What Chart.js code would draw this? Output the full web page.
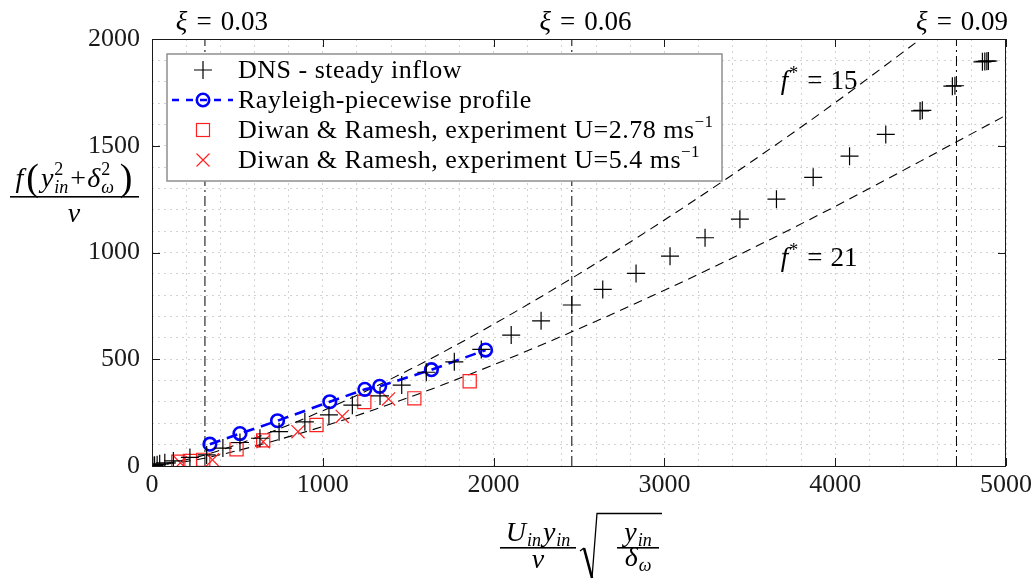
<!DOCTYPE html>
<html>
<head>
<meta charset="utf-8">
<script src="https://cdn.jsdelivr.net/npm/chart.js@4.4.1/dist/chart.umd.min.js"></script>
<style>
  html, body { margin: 0; padding: 0; background: #ffffff; }
  #wrap { width: 1036px; height: 580px; position: relative; }
</style>
</head>
<body>
<div id="wrap"><canvas id="c"></canvas></div>
<script>
// DNS - steady inflow
const dnsX = [5, 15, 30, 45, 75, 125, 222, 320, 415, 515, 632, 744, 895, 1036, 1173, 1335, 1462, 1606, 1770, 1928, 2103, 2278, 2458, 2639, 2834, 3033, 3238, 3442, 3656, 3871, 4084, 4296, 4497, 4510, 4686, 4701, 4862, 4876, 4888, 4897];
const dnsY = [2, 3, 6, 10, 15, 24, 40, 52, 84, 110, 130, 161, 207, 239, 285, 328, 379, 439, 488, 546, 613, 680, 754, 827, 902, 983, 1069, 1156, 1250, 1352, 1451, 1553, 1663, 1666, 1779, 1781, 1893, 1895, 1896, 1897];

// Rayleigh-piecewise profile
const rayX = [339, 515, 735, 1041, 1246, 1333, 1636, 1953];
const rayY = [102, 152, 212, 301, 359, 373, 451, 543];

// Diwan & Ramesh, U = 2.78 m/s
const dr278X = [154, 222, 300, 495, 651, 963, 1243, 1536, 1860];
const dr278Y = [20, 24, 29, 78, 120, 192, 300, 317, 397];

// Diwan & Ramesh, U = 5.4 m/s
const dr54X = [166, 354, 651, 855, 1114, 1385];
const dr54Y = [15, 29, 114, 161, 232, 314];

// f* reference curves
const curveX = [0, 250, 500, 1000, 1500, 2000, 2500, 3000, 3500, 4000, 4500, 5000];
const f15Y = [0, 39, 101, 259, 448, 664, 900, 1152, 1420, 1702, 2000, 2300];
const f21Y = [0, 28, 72, 185, 320, 474, 643, 823, 1014, 1216, 1428, 1643];

// xi = const markers
const xiX = [310, 2458, 4710];
const xiLabelX = [409, 2538, 4743];
const xiLabels = ['0.03', '0.06', '0.09'];

// axis ranges and tick steps
const xRange = [0, 5000], xMajor = 1000, xMinor = 200;
const yRange = [0, 2000], yMajor = 500, yMinor = 100;

const SERIF = '"Liberation Serif","DejaVu Serif","Times New Roman",serif';
const INK = '#1a1a1a';
function fnt(sz, it) { return (it ? 'italic ' : '') + sz + 'px ' + SERIF; }
function pts(xs, ys) { return xs.map((x, i) => ({ x: x, y: ys[i] })); }

// draws a run of text pieces; a piece may be a {sup, sub} stack
function rich(ctx, x, y, parts, align, spacing) {
  const sp = spacing || 0;
  if ('letterSpacing' in ctx) ctx.letterSpacing = sp + 'px';
  let w = 0;
  parts.forEach(p => {
    if (p.stack) {
      ctx.font = p.f; const a = ctx.measureText(p.sup || '').width;
      ctx.font = p.fs || p.f; const b = ctx.measureText(p.sub || '').width;
      p.w = Math.max(a, b) + (p.gap || 0);
    } else {
      ctx.font = p.f; p.w = ctx.measureText(p.t).width + (p.gap || 0);
    }
    w += p.w;
  });
  let cx = align === 'center' ? x - w / 2 : (align === 'right' ? x - w : x);
  ctx.textAlign = 'left'; ctx.textBaseline = 'alphabetic';
  parts.forEach(p => {
    if (p.stack) {
      ctx.font = p.f; if (p.sup) ctx.fillText(p.sup, cx + (p.dx || 0), y + p.supDy);
      ctx.font = p.fs || p.f; if (p.sub) ctx.fillText(p.sub, cx + (p.dx || 0), y + p.subDy);
    } else {
      ctx.font = p.f; ctx.fillText(p.t, cx + (p.dx || 0), y + (p.dy || 0));
    }
    cx += p.w;
  });
  if ('letterSpacing' in ctx) ctx.letterSpacing = '0px';
  return w;
}

const decor = {
  id: 'decor',
  afterDatasetsDraw(chart) {
    const ctx = chart.ctx, ca = chart.chartArea;
    const xs = chart.scales.x, ys = chart.scales.y;
    ctx.save();
    ctx.fillStyle = '#000';

    // f* labels
    const fLab = (X, Y, val) => rich(ctx, xs.getPixelForValue(X), ys.getPixelForValue(Y), [
      { t: 'f', f: fnt(27, true), gap: 1 },
      { t: '*', f: fnt(18, false), dy: -10, gap: 9 },
      { t: '=', f: fnt(27, false), gap: 8 },
      { t: val, f: fnt(27, false) }
    ], 'center');
    fLab(3906, 1765, '15');
    fLab(3906, 936, '21');

    // xi labels above the frame
    xiLabels.forEach((v, i) => {
      rich(ctx, xs.getPixelForValue(xiLabelX[i]), ca.top - 9, [
        { t: '\u03BE', f: fnt(27, true), gap: 9 },
        { t: '=', f: fnt(27, false), gap: 9 },
        { t: v, f: fnt(27, false) }
      ], 'center');
    });

    // legend
    const lx = ca.left + 15, ly = ca.top + 15, lw = 555, lh = 127;
    ctx.fillStyle = '#fff';
    ctx.fillRect(lx, ly, lw, lh);
    ctx.strokeStyle = '#8f8f8f'; ctx.lineWidth = 1.5;
    ctx.strokeRect(lx, ly, lw, lh);
    const mx = lx + 36, tx = lx + 71;
    const rows = [ly + 16, ly + 46, ly + 76, ly + 106];
    // DNS marker
    ctx.strokeStyle = '#000'; ctx.lineWidth = 1.2;
    ctx.beginPath();
    ctx.moveTo(mx - 9, rows[0]); ctx.lineTo(mx + 9, rows[0]);
    ctx.moveTo(mx, rows[0] - 9); ctx.lineTo(mx, rows[0] + 9);
    ctx.stroke();
    // Rayleigh marker + line
    ctx.strokeStyle = '#0000ff'; ctx.lineWidth = 2.6;
    ctx.setLineDash([7, 7]); ctx.lineDashOffset = 0;
    ctx.beginPath(); ctx.moveTo(lx + 5, rows[1]); ctx.lineTo(lx + 66, rows[1]); ctx.stroke();
    ctx.setLineDash([]);
    ctx.beginPath(); ctx.arc(mx, rows[1], 6.2, 0, Math.PI * 2); ctx.stroke();
    // square
    ctx.strokeStyle = '#ff2020'; ctx.lineWidth = 1.2;
    ctx.strokeRect(mx - 6.5, rows[2] - 6.5, 13, 13);
    // cross
    ctx.beginPath();
    ctx.moveTo(mx - 6.5, rows[3] - 6.5); ctx.lineTo(mx + 6.5, rows[3] + 6.5);
    ctx.moveTo(mx + 6.5, rows[3] - 6.5); ctx.lineTo(mx - 6.5, rows[3] + 6.5);
    ctx.stroke();
    // legend texts
    ctx.fillStyle = '#000';
    const lf = fnt(26, false), ls = fnt(17, false);
    rich(ctx, tx, rows[0] + 8, [{ t: 'DNS - steady inflow', f: lf }], 'left', 0.5);
    rich(ctx, tx, rows[1] + 8, [{ t: 'Rayleigh-piecewise profile', f: lf }], 'left', 0.5);
    rich(ctx, tx, rows[2] + 8, [{ t: 'Diwan & Ramesh, experiment U=2.78 ms', f: lf }, { t: '\u22121', f: ls, dy: -11 }], 'left', 0.5);
    rich(ctx, tx, rows[3] + 8, [{ t: 'Diwan & Ramesh, experiment U=5.4 ms', f: lf }, { t: '\u22121', f: ls, dy: -11 }], 'left', 0.5);

    // frame and inward ticks
    ctx.strokeStyle = INK; ctx.lineWidth = 1;
    ctx.strokeRect(Math.round(ca.left) + 0.5, Math.round(ca.top) + 0.5, Math.round(ca.right - ca.left) - 1, Math.round(ca.bottom - ca.top));
    ctx.beginPath();
    for (let v = xRange[0]; v <= xRange[1]; v += xMajor) {
      const p = Math.round(xs.getPixelForValue(v)) + 0.5;
      ctx.moveTo(p, ca.bottom); ctx.lineTo(p, ca.bottom - 8);
      ctx.moveTo(p, ca.top); ctx.lineTo(p, ca.top + 8);
    }
    for (let v = yRange[0]; v <= yRange[1]; v += yMajor) {
      const p = Math.round(ys.getPixelForValue(v)) + 0.5;
      ctx.moveTo(ca.left, p); ctx.lineTo(ca.left + 8, p);
      ctx.moveTo(ca.right, p); ctx.lineTo(ca.right - 8, p);
    }
    ctx.stroke();

    // y-axis title: f(y_in^2 + delta_omega^2) / nu
    ctx.fillStyle = '#000';
    const yc = 74;
    rich(ctx, yc, 187, [
      { t: 'f', f: fnt(28, true), gap: 3 },
      { t: '(', f: fnt(38, false), dy: 3, gap: 2 },
      { t: 'y', f: fnt(28, true), gap: 1 },
      { stack: true, sup: '2', sub: 'in', f: fnt(18, false), fs: fnt(18, true), supDy: -12, subDy: 6, gap: 2 },
      { t: '+', f: fnt(28, false), gap: 1 },
      { t: '\u03B4', f: fnt(28, true), gap: 1 },
      { stack: true, sup: '2', sub: '\u03C9', f: fnt(18, false), fs: fnt(18, true), supDy: -12, subDy: 6, gap: 6 },
      { t: ')', f: fnt(38, false), dy: 3 }
    ], 'center');
    ctx.fillRect(10, 196, 129, 1.6);
    rich(ctx, yc, 222, [{ t: '\u03BD', f: fnt(28, true) }], 'center');

    // x-axis title: (U_in y_in / nu) sqrt(y_in / delta_omega)
    const xc = 538;
    rich(ctx, xc, 541, [
      { t: 'U', f: fnt(28, true), gap: 1 },
      { t: 'in', f: fnt(18, true), dy: 5, gap: 2 },
      { t: 'y', f: fnt(28, true), gap: 1 },
      { t: 'in', f: fnt(18, true), dy: 5 }
    ], 'center');
    ctx.fillRect(500, 547, 76, 1.6);
    rich(ctx, xc, 568, [{ t: '\u03BD', f: fnt(28, true) }], 'center');
    // radical sign
    ctx.strokeStyle = '#000';
    ctx.lineWidth = 1.3;
    ctx.beginPath();
    ctx.moveTo(580, 551); ctx.lineTo(584, 548);
    ctx.stroke();
    ctx.lineWidth = 2.6;
    ctx.beginPath(); ctx.moveTo(584, 548); ctx.lineTo(592, 578); ctx.stroke();
    ctx.lineWidth = 1.3;
    ctx.beginPath(); ctx.moveTo(592, 578); ctx.lineTo(597, 513.5); ctx.lineTo(662, 513.5); ctx.stroke();
    const ic = 638;
    rich(ctx, ic, 541, [
      { t: 'y', f: fnt(28, true), gap: 1 },
      { t: 'in', f: fnt(18, true), dy: 5 }
    ], 'center');
    ctx.fillRect(617, 547, 42, 1.6);
    rich(ctx, ic, 566, [
      { t: '\u03B4', f: fnt(28, true), gap: 1 },
      { t: '\u03C9', f: fnt(18, true), dy: 5 }
    ], 'center');

    ctx.restore();
  }
};

const refLine = (ys) => ({
  type: 'line', data: pts(curveX, ys), showLine: true, pointRadius: 0,
  borderColor: '#000', borderWidth: 1.1, borderDash: [9, 6], fill: false,
  cubicInterpolationMode: 'monotone', order: 5
});
const xiLine = (x) => ({
  type: 'line', data: [{ x: x, y: yRange[0] }, { x: x, y: yRange[1] }], showLine: true, pointRadius: 0,
  borderColor: '#000', borderWidth: 1, borderDash: [10, 4, 2, 4], fill: false, order: 6
});

const gridOpts = { color: '#d2d2d2', lineWidth: 1, drawTicks: false };
const borderOpts = { display: false, dash: [2, 4] };

new Chart(document.getElementById('c'), {
  type: 'scatter',
  data: {
    datasets: [
      { label: 'DNS - steady inflow', data: pts(dnsX, dnsY), showLine: false,
        pointStyle: 'cross', pointRadius: 9, pointBorderColor: '#000', pointBorderWidth: 1.2,
        pointBackgroundColor: 'rgba(0,0,0,0)', order: 0 },
      { label: 'Rayleigh-piecewise profile', type: 'line', data: pts(rayX, rayY), showLine: true,
        borderColor: '#0000ff', borderWidth: 2.6, borderDash: [11, 7], fill: false,
        pointStyle: 'circle', pointRadius: 6.3, pointBorderColor: '#0000ff', pointBorderWidth: 2.6,
        pointBackgroundColor: 'rgba(0,0,0,0)', order: 1 },
      { label: 'Diwan & Ramesh, experiment U=2.78', data: pts(dr278X, dr278Y), showLine: false,
        pointStyle: 'rect', pointRadius: 9.3, pointBorderColor: '#ff2020', pointBorderWidth: 1.2,
        pointBackgroundColor: 'rgba(0,0,0,0)', order: 2 },
      { label: 'Diwan & Ramesh, experiment U=5.4', data: pts(dr54X, dr54Y), showLine: false,
        pointStyle: 'crossRot', pointRadius: 9.3, pointBorderColor: '#ff2020', pointBorderWidth: 1.2,
        pointBackgroundColor: 'rgba(0,0,0,0)', order: 3 },
      Object.assign(refLine(f15Y), { label: 'f* = 15' }),
      Object.assign(refLine(f21Y), { label: 'f* = 21' }),
      Object.assign(xiLine(xiX[0]), { label: 'xi 0.03' }),
      Object.assign(xiLine(xiX[1]), { label: 'xi 0.06' }),
      Object.assign(xiLine(xiX[2]), { label: 'xi 0.09' })
    ]
  },
  options: {
    responsive: true,
    maintainAspectRatio: false,
    animation: false,
    events: [],
    layout: { padding: { top: 39, right: 29, left: 0, bottom: 0 } },
    plugins: { legend: { display: false }, tooltip: { enabled: false } },
    scales: {
      x: {
        type: 'linear', min: xRange[0], max: xRange[1],
        afterFit(s) { s.height = 114; },
        ticks: {
          stepSize: xMinor, autoSkip: false, maxRotation: 0, padding: 4, color: INK,
          font: { family: SERIF, size: 26 },
          callback: v => (v % xMajor === 0 ? String(v) : '')
        },
        grid: gridOpts, border: borderOpts
      },
      y: {
        type: 'linear', min: yRange[0], max: yRange[1],
        afterFit(s) { s.width = 152; },
        ticks: {
          stepSize: yMinor, autoSkip: false, padding: 12, color: INK,
          font: { family: SERIF, size: 26 },
          callback: v => (v % yMajor === 0 ? String(v) : '')
        },
        grid: gridOpts, border: borderOpts
      }
    }
  },
  plugins: [decor]
});
</script>
</body>
</html>
